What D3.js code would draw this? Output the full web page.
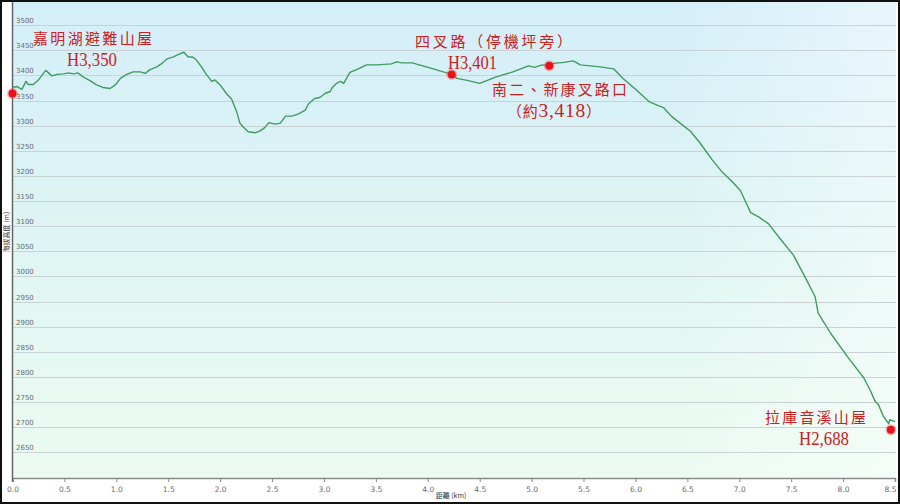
<!DOCTYPE html>
<html><head><meta charset="utf-8">
<script src="https://cdn.jsdelivr.net/npm/d3@7"></script>
<style>html,body{margin:0;padding:0;background:#fff;} svg{display:block}</style>
</head><body>
<svg id="c" width="900" height="504"></svg>
<script>
// ---- data ----
const distKm = [0.00,0.04,0.09,0.13,0.15,0.20,0.25,0.28,0.32,0.38,0.43,0.49,0.54,0.59,0.63,0.68,0.75,0.81,0.87,0.94,
  0.99,1.04,1.10,1.16,1.23,1.28,1.32,1.39,1.44,1.49,1.55,1.60,1.65,1.69,1.74,1.77,1.82,1.87,1.92,1.95,
  2.00,2.06,2.11,2.16,2.19,2.22,2.27,2.34,2.38,2.43,2.47,2.53,2.58,2.63,2.69,2.75,2.82,2.85,2.91,2.96,
  3.01,3.06,3.08,3.12,3.16,3.19,3.25,3.32,3.41,3.51,3.65,3.70,3.75,3.85,4.02,4.23,4.28,4.38,4.50,4.66,
  4.82,4.97,5.03,5.10,5.17,5.21,5.31,5.40,5.47,5.66,5.79,5.88,6.01,6.13,6.22,6.27,6.35,6.43,6.53,6.62,
  6.74,6.83,6.93,7.01,7.06,7.11,7.19,7.28,7.39,7.52,7.63,7.73,7.76,7.88,8.04,8.20,8.26,8.31,8.34,8.39,
  8.44,8.45,8.50];
const elevM = [3376,3378,3372,3388,3382,3382,3391,3399,3410,3399,3402,3403,3405,3403,3405,3397,3389,3381,3376,3374,
  3381,3394,3402,3407,3407,3404,3411,3417,3424,3433,3437,3442,3446,3437,3436,3431,3417,3401,3388,3391,
  3381,3364,3353,3327,3305,3298,3288,3286,3289,3296,3306,3303,3305,3319,3319,3323,3331,3343,3354,3356,
  3364,3368,3376,3384,3388,3384,3406,3412,3421,3421,3423,3427,3425,3425,3415,3402,3394,3390,3384,3397,
  3407,3419,3416,3421,3419,3424,3426,3429,3421,3417,3413,3394,3371,3348,3340,3336,3318,3305,3289,3266,
  3232,3209,3189,3171,3149,3127,3118,3105,3076,3043,3000,2960,2927,2887,2841,2798,2774,2751,2745,2721,
  2707,2715,2711];
const xTickValues = [0,0.5,1,1.5,2,2.5,3,3.5,4,4.5,5,5.5,6,6.5,7,7.5,8,8.5];
const xTickLabels = ["0.0","0.5","1.0","1.5","2.0","2.5","3.0","3.5","4.0","4.5","5.0","5.5","6.0","6.5","7.0","7.5","8.0","8.5"];
const yTickValues = [2650,2700,2750,2800,2850,2900,2950,3000,3050,3100,3150,3200,3250,3300,3350,3400,3450,3500];
const yTickLabels = yTickValues.map(String);
const markerKm = [0.0, 4.23, 5.17, 8.46];
const markerElev = [3364, 3402, 3419, 2695];
const markerNames = ["嘉明湖避難山屋","四叉路（停機坪旁）","南二、新康叉路口","拉庫音溪山屋"];
const markerHeights = ["H3,350","H3,401","（約3,418）","H2,688"];
const xTitle = "距離 (km)";
const yTitle = "海拔高度 (m)";

// ---- layout ----
const svg = d3.select("#c");
const x = d3.scaleLinear().domain([0, 8.5]).range([12.5, 895]);
const y = d3.scaleLinear().domain([2600, 3550]).range([477.5, 0]);

const defs = svg.append("defs");
const g1 = defs.append("linearGradient").attr("id","bg").attr("x1",0).attr("y1",0).attr("x2",0).attr("y2",1);
g1.append("stop").attr("offset","0%").attr("stop-color","#d4eef9");
g1.append("stop").attr("offset","50%").attr("stop-color","#def5f3");
g1.append("stop").attr("offset","100%").attr("stop-color","#ecfbf1");
const g2 = defs.append("linearGradient").attr("id","sheen").attr("x1",0).attr("y1",0).attr("x2",1).attr("y2",0);
g2.append("stop").attr("offset","0%").attr("stop-color","#fff").attr("stop-opacity",0);
g2.append("stop").attr("offset","75%").attr("stop-color","#fff").attr("stop-opacity",0);
g2.append("stop").attr("offset","100%").attr("stop-color","#fff").attr("stop-opacity",0.45);

svg.append("rect").attr("x",0).attr("y",0).attr("width",900).attr("height",504).attr("fill","#fff");
svg.append("rect").attr("x",12).attr("y",0).attr("width",884).attr("height",478).attr("fill","url(#bg)");
svg.append("rect").attr("x",12).attr("y",0).attr("width",884).attr("height",478).attr("fill","url(#sheen)");

// grid + y labels
const gy = svg.append("g");
yTickValues.forEach((v,i) => {
  const yy = Math.round(y(v)) + 0.5;
  gy.append("line").attr("x1",12).attr("x2",896).attr("y1",yy).attr("y2",yy)
    .attr("stroke","#c9d3d6").attr("stroke-width",1);
  gy.append("text").attr("x",16).attr("y",yy-3).text(yTickLabels[i])
    .attr("font-family","DejaVu Sans").attr("font-size",7).attr("fill","#6a6a6a");
});

// x axis
const xAxis = d3.axisBottom(x).tickValues(xTickValues).tickSize(4)
  .tickFormat((d,i) => xTickLabels[i]);
const ax = svg.append("g").attr("transform","translate(0,478)").call(xAxis);
ax.select(".domain").attr("stroke","#8a8a8a").attr("stroke-width",1.5);
ax.selectAll(".tick line").attr("stroke","#8a8a8a");
ax.selectAll(".tick text").attr("font-family","DejaVu Sans").attr("font-size",7.5).attr("fill","#6a6a6a").attr("dy","0.9em");
ax.selectAll(".tick text").filter((d,i,n) => i === n.length - 1).attr("dx", -5);

// left axis line
svg.append("line").attr("x1",12.5).attr("x2",12.5).attr("y1",0).attr("y2",482)
  .attr("stroke","#666").attr("stroke-width",1.5);

// titles
svg.append("text").attr("transform","translate(9,232) rotate(-90)").attr("text-anchor","middle")
  .attr("font-family","Noto Sans CJK TC").attr("font-size",7).attr("fill","#333").text(yTitle);
svg.append("text").attr("x",451).attr("y",498).attr("text-anchor","middle")
  .attr("font-family","Noto Sans CJK TC").attr("font-size",7).attr("fill","#333").text(xTitle);

// profile line
const line = d3.line().x((d,i)=>x(distKm[i])).y((d,i)=>y(elevM[i]));
svg.append("path").datum(elevM).attr("d",line).attr("fill","none")
  .attr("stroke","#3f9b60").attr("stroke-width",1.4).attr("stroke-linejoin","round");

// markers
markerKm.forEach((k,i) => {
  svg.append("circle").attr("cx",x(k)).attr("cy",y(markerElev[i])).attr("r",5.5)
    .attr("fill","#ff4040").attr("opacity",0.35);
  svg.append("circle").attr("cx",x(k)).attr("cy",y(markerElev[i])).attr("r",4)
    .attr("fill","#e8121a");
});

// annotations (text layout)
const annLayout = [
  {name:[33,43.5,119], h:[67,65.5,50]},
  {name:[415,46.5,157], h:[448,68.5,49]},
  {name:[492,95,135], h:[507,116.5,94]},
  {name:[765,422.5,101], h:[799,445,50]}
];
const red = "#cc2020";
annLayout.forEach((a,i) => {
  svg.append("text").attr("x",a.name[0]).attr("y",a.name[1])
    .attr("font-family","Noto Sans CJK TC").attr("font-size",15).attr("fill",red)
    .attr("textLength",a.name[2]).attr("lengthAdjust","spacing").text(markerNames[i]);
  const t = svg.append("text").attr("x",a.h[0]).attr("y",a.h[1]).attr("fill",red)
    .attr("textLength",a.h[2]);
  const s = markerHeights[i];
  if (/^[A-Za-z0-9,]+$/.test(s)) {
    t.attr("font-family","Liberation Serif").attr("font-size",19.5)
     .attr("lengthAdjust","spacingAndGlyphs").text(s);
  } else {
    t.attr("lengthAdjust","spacing");
    const parts = s.match(/[0-9,]+|[^0-9,]+/g);
    parts.forEach(p => {
      const num = /^[0-9,]+$/.test(p);
      t.append("tspan").text(p)
        .attr("font-family", num ? "Liberation Serif" : "Noto Sans CJK TC")
        .attr("font-size", num ? 19.5 : 15);
    });
  }
});

// frame
svg.append("rect").attr("x",1).attr("y",1).attr("width",898).attr("height",502)
  .attr("fill","none").attr("stroke","#111").attr("stroke-width",2);
</script>
</body></html>
